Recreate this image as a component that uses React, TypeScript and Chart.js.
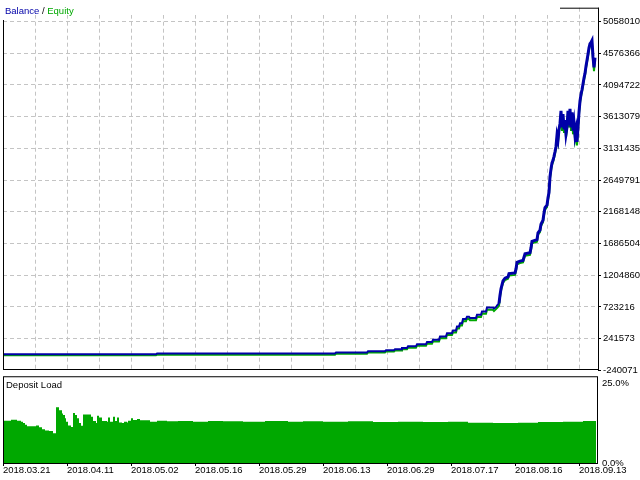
import { useEffect, useRef } from 'react';
import { Chart, registerables } from 'chart.js';

Chart.register(...registerables);

// ---- Balance / Equity (x = trade index along the axis) ----
const tradeIdx = [
  0, 153, 154, 332, 333, 364, 365, 382, 383, 391,
  392, 398, 399, 404, 405, 413, 414, 423, 424, 429,
  430, 436, 437, 443, 444, 449, 450, 453, 454, 456,
  457, 459, 460, 463, 464, 466, 467, 473, 474, 478,
  479, 483, 484, 490, 491, 493, 494, 496,
  497, 498, 499, 500, 502, 505, 506, 512, 513, 514,
  517, 520, 521, 522, 527, 528, 529, 534, 535, 537,
  538, 540, 541, 542, 544, 545, 546,
  547, 548, 549, 550, 551, 552, 553, 554, 555, 556,
  557, 558, 559, 560, 561, 562, 563, 564, 565, 566,
  567, 568, 569, 570, 571, 572, 573, 574, 575, 576,
  577, 578, 579, 580, 581, 582, 583, 584, 585, 586,
  587, 588, 589, 590, 591, 592,
];

const balance = [
  5000, 5000, 15000, 15000, 30000, 30000, 50000, 50000, 65000, 65000,
  80000, 80000, 100000, 100000, 125000, 125000, 155000, 155000, 190000, 190000,
  225000, 225000, 275000, 275000, 325000, 325000, 365000, 365000, 425000, 425000,
  475000, 475000, 540000, 540000, 575000, 575000, 555000, 555000, 605000, 605000,
  655000, 655000, 715000, 715000, 700000, 720000, 745000, 780000,
  900000, 1000000, 1060000, 1120000, 1160000, 1180000, 1230000, 1240000, 1300000, 1400000,
  1420000, 1430000, 1480000, 1530000, 1545000, 1620000, 1720000, 1745000, 1850000, 1890000,
  1980000, 2040000, 2150000, 2230000, 2270000, 2380000, 2460000,
  2700000, 2820000, 2910000, 2950000, 3010000, 3080000, 3160000, 3330000, 3260000, 3420000,
  3510000, 3700000, 3450000, 3650000, 3420000, 3560000, 3350000, 3450000, 3700000, 3480000,
  3730000, 3450000, 3680000, 3400000, 3520000, 3330000, 3420000, 3230000, 3450000, 3680000,
  3850000, 3950000, 4020000, 4110000, 4200000, 4270000, 4380000, 4470000, 4560000, 4660000,
  4720000, 4740000, 4770000, 4520000, 4360000, 4510000,
];

const equity = [
  -12000, -12000, -2000, -2000, 13000, 13000, 33000, 33000, 48000, 46000,
  62000, 60000, 82000, 80000, 106000, 104000, 135000, 133000, 168000, 166000,
  202000, 200000, 250000, 248000, 300000, 298000, 338000, 336000, 395000, 395000,
  445000, 443000, 508000, 506000, 545000, 540000, 522000, 520000, 572000, 570000,
  622000, 620000, 682000, 680000, 660000, 690000, 705000, 740000,
  870000, 970000, 1030000, 1090000, 1130000, 1150000, 1200000, 1210000, 1270000, 1370000,
  1390000, 1400000, 1450000, 1500000, 1515000, 1590000, 1690000, 1715000, 1820000, 1860000,
  1950000, 2010000, 2120000, 2200000, 2240000, 2350000, 2430000,
  2670000, 2790000, 2880000, 2920000, 2980000, 3050000, 3130000, 3300000, 3220000, 3390000,
  3480000, 3670000, 3395000, 3620000, 3365000, 3530000, 3295000, 3420000, 3670000, 3450000,
  3700000, 3395000, 3650000, 3345000, 3490000, 3275000, 3390000, 3175000, 3420000, 3650000,
  3820000, 3920000, 3990000, 4080000, 4170000, 4240000, 4350000, 4440000, 4530000, 4630000,
  4690000, 4710000, 4740000, 4480000, 4305000, 4480000,
];

const yTickValues = [
  -240071, 241573, 723216, 1204860, 1686504, 2168148,
  2649791, 3131435, 3613079, 4094722, 4576366, 5058010,
];
const yMin = -219085;
const yMax = 5267255;

const gridIdx = [32, 64, 96, 128, 160, 192, 224, 256, 288, 320, 352, 384, 416, 448, 480, 512, 544, 576];
const fastGrowthStart = 496;

// ---- Deposit load ----
const loadIdx = [
  0, 8, 14, 18, 20, 22, 24, 33, 36, 39,
  42, 46, 50, 53, 56, 59, 60, 62, 63, 65,
  68, 70, 72, 74, 76, 78, 80, 88, 90, 93,
  94, 96, 99, 104, 105, 107, 110, 112, 114, 116,
  119, 121, 124, 125, 128, 130, 134, 137, 147, 154,
  164, 175, 190, 205, 220, 240, 262, 285, 300, 320,
  345, 370, 395, 420, 445, 465, 490, 515, 535, 560,
  580, 593,
];
const loadValues = [
  12.2, 12.5, 12.2, 11.9, 11.5, 11.0, 10.6, 10.8, 10.3, 9.7,
  9.4, 9.2, 8.6, 16.1, 15.2, 14.3, 13.8, 12.9, 11.9, 10.8,
  10.4, 14.4, 13.8, 12.9, 11.5, 10.7, 14.0, 13.3, 12.1, 11.5,
  13.6, 13.1, 12.1, 11.9, 13.1, 11.9, 13.3, 12.1, 13.1, 11.7,
  11.5, 11.9, 11.7, 12.2, 12.9, 12.4, 12.7, 12.3, 11.9, 12.2,
  12.0, 12.1, 11.9, 12.1, 12.0, 11.9, 12.1, 11.9, 12.0, 11.9,
  12.0, 11.8, 11.9, 11.8, 11.9, 11.6, 11.5, 11.6, 11.8, 11.9,
  12.1, 12.1,
];
const loadTicks = [0, 25];

const dateIdx = [0, 64, 128, 192, 256, 320, 384, 448, 512, 576];
const dateLabels = [
  '2018.03.21', '2018.04.11', '2018.05.02', '2018.05.16', '2018.05.29',
  '2018.06.13', '2018.06.29', '2018.07.17', '2018.08.16', '2018.09.13',
];

const FONT = "'Liberation Sans', Arial, sans-serif";
const FSIZE = 9.5;
const BLUE = '#0000A8';
const GREEN = '#00A800';
const GRID = '#C4C4C4';

const topFrame = {
  id: 'topFrame',
  afterDraw(chart: any) {
    const { ctx, chartArea: a } = chart;
    ctx.save();
    ctx.fillStyle = '#fff';
    ctx.fillRect(0, 0, 560, 15);
    ctx.strokeStyle = '#000';
    ctx.lineWidth = 1;
    ctx.setLineDash([]);
    ctx.beginPath();
    ctx.moveTo(a.left + 0.5, 20);
    ctx.lineTo(a.left + 0.5, a.bottom + 1);
    ctx.moveTo(a.left, a.bottom + 0.5);
    ctx.lineTo(a.right + 1, a.bottom + 0.5);
    ctx.moveTo(a.right + 0.5, a.top);
    ctx.lineTo(a.right + 0.5, a.bottom + 1);
    ctx.moveTo(560, a.top + 0.5);
    ctx.lineTo(a.right + 1, a.top + 0.5);
    ctx.stroke();
    ctx.font = `${FSIZE}px ${FONT}`;
    ctx.textBaseline = 'alphabetic';
    ctx.textAlign = 'left';
    let x = 5;
    const parts: [string, string][] = [['Balance', BLUE], [' / ', '#000'], ['Equity', GREEN]];
    for (const [t, c] of parts) {
      ctx.fillStyle = c;
      ctx.fillText(t, x, 14);
      x += ctx.measureText(t).width;
    }
    ctx.restore();
  },
};

const bottomFrame = {
  id: 'bottomFrame',
  afterDraw(chart: any) {
    const { ctx, chartArea: a } = chart;
    ctx.save();
    ctx.strokeStyle = '#000';
    ctx.lineWidth = 1;
    ctx.setLineDash([]);
    ctx.strokeRect(a.left + 0.5, a.top + 0.5, a.right - a.left, a.bottom - a.top);
    ctx.font = `${FSIZE}px ${FONT}`;
    ctx.fillStyle = '#000';
    ctx.textBaseline = 'alphabetic';
    ctx.textAlign = 'left';
    ctx.fillText('Deposit Load', 6, a.top + 11.5);
    ctx.restore();
  },
};

export default function App() {
  const topRef = useRef<HTMLCanvasElement>(null);
  const botRef = useRef<HTMLCanvasElement>(null);

  useEffect(() => {
    document.body.style.margin = '0';
    const top = new Chart(topRef.current as HTMLCanvasElement, {
      type: 'line',
      data: {
        datasets: [
          {
            label: 'Balance',
            data: tradeIdx.map((x, i) => ({ x, y: balance[i] })),
            borderColor: BLUE,
            borderWidth: 2,
            pointRadius: 0,
            tension: 0,
            fill: false,
            segment: {
              borderWidth: (c: any) => (tradeIdx[c.p0DataIndex] >= fastGrowthStart ? 3 : 2),
            },
          },
          {
            label: 'Equity',
            data: tradeIdx.map((x, i) => ({ x, y: equity[i] })),
            borderColor: GREEN,
            borderWidth: 2,
            pointRadius: 0,
            tension: 0,
            fill: false,
          },
        ],
      },
      options: {
        animation: false,
        responsive: false,
        devicePixelRatio: 1,
        events: [],
        layout: { padding: { left: 3, top: 3, right: 0, bottom: 11 } },
        plugins: { legend: { display: false }, tooltip: { enabled: false } },
        scales: {
          x: {
            type: 'linear',
            min: 0,
            max: 595,
            afterBuildTicks: (s: any) => {
              s.ticks = gridIdx.map((v) => ({ value: v }));
            },
            afterFit: (s: any) => {
              s.height = 0;
            },
            ticks: { display: false },
            grid: { color: GRID, lineWidth: 1, drawTicks: false },
            border: { display: false, dash: [4, 3] },
          },
          y: {
            type: 'linear',
            position: 'right',
            min: yMin,
            max: yMax,
            afterBuildTicks: (s: any) => {
              s.ticks = yTickValues.map((v) => ({ value: v }));
            },
            afterFit: (s: any) => {
              s.width = 42;
            },
            ticks: {
              color: '#000',
              font: { family: FONT, size: FSIZE },
              padding: 2,
              callback: (v: any) => String(v),
            },
            grid: {
              color: (c: any) => (c.tick && c.tick.value === yTickValues[0] ? 'rgba(0,0,0,0)' : GRID),
              lineWidth: 1,
              drawTicks: true,
              tickLength: 3,
              tickColor: '#000',
              tickWidth: 1,
            },
            border: { display: false, dash: [4, 3] },
          },
        },
      } as any,
      plugins: [topFrame],
    });

    const bot = new Chart(botRef.current as HTMLCanvasElement, {
      type: 'line',
      data: {
        datasets: [
          {
            label: 'Deposit Load',
            data: loadIdx.map((x, i) => ({ x, y: loadValues[i] })),
            borderColor: 'rgba(0,0,0,0)',
            backgroundColor: GREEN,
            borderWidth: 0,
            pointRadius: 0,
            stepped: true,
            fill: 'origin',
          },
        ],
      },
      options: {
        animation: false,
        responsive: false,
        devicePixelRatio: 1,
        events: [],
        layout: { padding: { left: 3, top: 13, right: 0, bottom: 0 } },
        plugins: { legend: { display: false }, tooltip: { enabled: false } },
        scales: {
          x: {
            type: 'linear',
            min: 0,
            max: 594,
            afterBuildTicks: (s: any) => {
              s.ticks = dateIdx.map((v) => ({ value: v }));
            },
            afterFit: (s: any) => {
              s.height = 17;
            },
            ticks: {
              align: 'start',
              autoSkip: false,
              maxRotation: 0,
              minRotation: 0,
              padding: 0,
              color: '#000',
              font: { family: FONT, size: FSIZE, lineHeight: 1 },
              callback: (v: any) => dateLabels[dateIdx.indexOf(Number(v))],
            },
            grid: {
              display: true,
              drawOnChartArea: false,
              drawTicks: true,
              tickLength: 3,
              tickColor: '#000',
              color: '#000',
            },
            border: { display: false },
          },
          y: {
            type: 'linear',
            position: 'right',
            min: loadTicks[0],
            max: loadTicks[1],
            afterBuildTicks: (s: any) => {
              s.ticks = loadTicks.map((v) => ({ value: v }));
            },
            afterFit: (s: any) => {
              s.width = 43;
            },
            ticks: {
              color: '#000',
              padding: 2,
              font: { family: FONT, size: FSIZE, lineHeight: 1.5 },
              callback: (v: any) => {
                const t = Number(v).toFixed(1) + '%';
                return Number(v) === loadTicks[loadTicks.length - 1] ? ['', t] : t;
              },
            },
            grid: { display: false, drawTicks: true, tickLength: 3 },
            border: { display: false },
          },
        },
      } as any,
      plugins: [bottomFrame],
    });

    return () => {
      top.destroy();
      bot.destroy();
    };
  }, []);

  return (
    <div style={{ position: 'relative', width: 640, height: 480, background: '#fff' }}>
      <canvas ref={topRef} width={640} height={380} style={{ position: 'absolute', left: 0, top: 0 }} />
      <canvas ref={botRef} width={640} height={120} style={{ position: 'absolute', left: 0, top: 360 }} />
    </div>
  );
}
